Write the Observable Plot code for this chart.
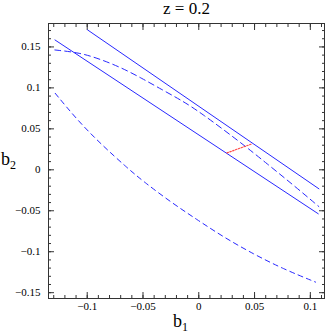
<!DOCTYPE html>
<html>
<head>
<meta charset="utf-8">
<script src="https://cdn.jsdelivr.net/npm/d3@7"></script>
<script src="https://cdn.jsdelivr.net/npm/@observablehq/plot@0.6"></script>
<style>
  html, body { margin: 0; padding: 0; background: #fff; }
  #chart svg { display: block; }
  #chart svg text { font-family: "Liberation Serif", "DejaVu Serif", serif !important; }
</style>
</head>
<body>
<div id="chart"></div>
<script>
// ---- data ----
const title = "z = 0.2";
const xLabel = ["b", "1"];
const yLabel = ["b", "2"];
const xTicks = [-0.1, -0.05, 0, 0.05, 0.1];
const yTicks = [-0.15, -0.1, -0.05, 0, 0.05, 0.1, 0.15];

// solid straight lines (b1, b2 endpoints)
const solidUpperB1 = [-0.0996, 0.1077];
const solidUpperB2 = [0.1707, -0.0232];
const solidLowerB1 = [-0.1289, 0.1071];
const solidLowerB2 = [0.1585, -0.0537];

// dashed curves
const dashUpperB1 = [-0.1290, -0.1067, -0.0879, -0.0690, -0.0510, -0.0331, -0.0151, 0.0013, 0.0373, 0.0613, 0.0852, 0.1076];
const dashUpperB2 = [0.1463, 0.1430, 0.1349, 0.1244, 0.1117, 0.0979, 0.0845, 0.0702, 0.0337, 0.0073, -0.0191, -0.0448];
const dashLowerB1 = [-0.1287, -0.1083, -0.0873, -0.0642, -0.0496, -0.0250, -0.0016, 0.0223, 0.0487, 0.0757, 0.1047];
const dashLowerB2 = [0.0934, 0.0598, 0.0309, 0.0024, -0.0143, -0.0395, -0.0608, -0.0822, -0.1026, -0.1210, -0.1371];

// red dotted segment
const redB1 = [0.0253, 0.0478];
const redB2 = [0.0207, 0.0317];

// ---- build tables ----
const toPts = (xs, ys) => xs.map((x, i) => ({b1: x, b2: ys[i]}));
const xMinor = d3.range(-13, 12).map(i => i / 100);
const yMinor = d3.range(-15, 18).map(i => i / 100);
const fmt = d => d === 0 ? "0" : String(d).replace("-", "\u2212");

const blue = "#2828ff";
const serif = "Liberation Serif";
const frameColor = "#333";

const tickAxes = [];
for (const anchor of ["bottom", "top"]) {
  tickAxes.push(Plot.axisX({anchor, ticks: xTicks, tickSize: -6, fill: "none", label: null, stroke: frameColor}));
  tickAxes.push(Plot.axisX({anchor, ticks: xMinor, tickSize: -3, fill: "none", label: null, stroke: frameColor}));
}
for (const anchor of ["left", "right"]) {
  tickAxes.push(Plot.axisY({anchor, ticks: yTicks, tickSize: -6, fill: "none", label: null, stroke: frameColor}));
  tickAxes.push(Plot.axisY({anchor, ticks: yMinor, tickSize: -3, fill: "none", label: null, stroke: frameColor}));
}

const plot = Plot.plot({
  width: 327,
  height: 333,
  marginLeft: 48,
  marginRight: 3,
  marginTop: 23,
  marginBottom: 35,
  style: {fontFamily: serif, background: "#fff"},
  x: {domain: [-0.1347, 0.1127]},
  y: {domain: [-0.1571, 0.1786]},
  marks: [
    ...tickAxes,
    Plot.axisX({anchor: "bottom", ticks: xTicks, tickSize: 0, tickPadding: 4, tickFormat: fmt, label: null, fontSize: 11, fontFamily: serif, fill: "#000"}),
    Plot.axisY({anchor: "left", ticks: yTicks, tickSize: 0, tickPadding: 8, tickFormat: fmt, label: null, fontSize: 11, fontFamily: serif, fill: "#000"}),
    Plot.line(toPts(dashLowerB1, dashLowerB2), {x: "b1", y: "b2", stroke: blue, strokeWidth: 1, strokeDasharray: "5,4", curve: "basis"}),
    Plot.line(toPts(dashUpperB1, dashUpperB2), {x: "b1", y: "b2", stroke: blue, strokeWidth: 1, strokeDasharray: "6,4", curve: "basis"}),
    Plot.line(toPts(solidUpperB1, solidUpperB2), {x: "b1", y: "b2", stroke: blue, strokeWidth: 1}),
    Plot.line(toPts(solidLowerB1, solidLowerB2), {x: "b1", y: "b2", stroke: blue, strokeWidth: 1}),
    Plot.line(toPts(redB1, redB2), {x: "b1", y: "b2", stroke: "#ff4a4a", strokeWidth: 1.2, strokeDasharray: "1.5,1.5"}),
    Plot.frame({stroke: frameColor, strokeWidth: 1}),
    Plot.text([title], {frameAnchor: "top", dy: -22, text: d => d, fontSize: 17, fontFamily: serif, fill: "#000", lineAnchor: "top"})
  ]
});

const svg = d3.select(plot);
function subLabel(parts, x, y) {
  const t = svg.append("text")
    .attr("x", x).attr("y", y)
    .attr("text-anchor", "start")
    .attr("font-family", serif).attr("font-size", 18).attr("fill", "#000");
  t.append("tspan").text(parts[0]);
  t.append("tspan").attr("dy", 4).attr("font-size", 12).text(parts[1]);
}
subLabel(xLabel, 173, 327);
subLabel(yLabel, 1, 165);

document.getElementById("chart").appendChild(plot);
</script>
</body>
</html>
